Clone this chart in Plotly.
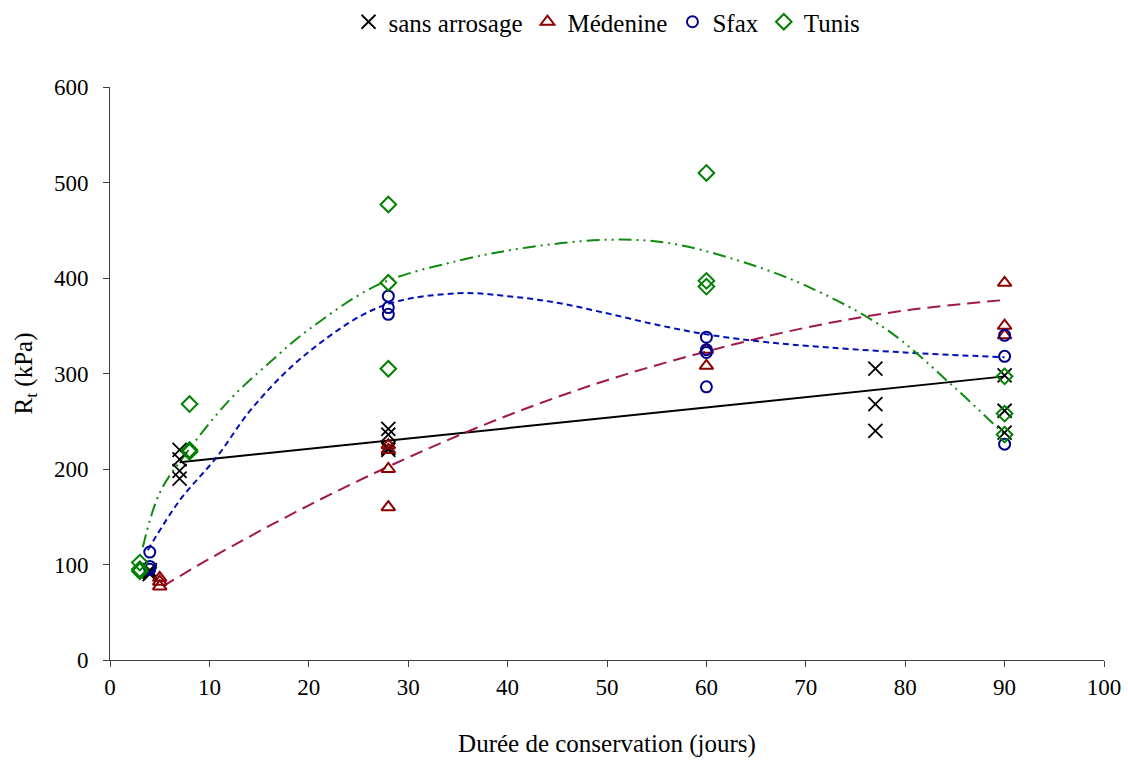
import plotly.graph_objects as go

# ---- data ----
sans_x = [4, 4, 4, 7, 7, 7, 7, 28, 28, 28, 28, 77, 77, 77, 90, 90, 90]
sans_y = [94, 92, 90, 220, 210, 198, 190, 242, 236, 222, 220, 305, 268, 240, 298, 261, 238]

med_x = [5, 5, 5, 28, 28, 28, 28, 60, 60, 90, 90, 90]
med_y = [86, 82, 77, 225, 220, 200, 160, 325, 308, 395, 350, 340]

sfax_x = [4, 4, 4, 28, 28, 28, 60, 60, 60, 60, 90, 90, 90]
sfax_y = [113, 98, 95, 381, 369, 362, 338, 325, 322, 286, 340, 318, 226]

tunis_x = [3, 3, 3, 8, 8, 8, 28, 28, 28, 60, 60, 60, 90, 90, 90]
tunis_y = [102, 95, 93, 268, 220, 218, 477, 395, 305, 510, 397, 391, 297, 258, 236]

# trend curves
sans_tr_x = [7, 90]
sans_tr_y = [207, 297]

med_tr_x = [5.3, 10, 20, 30, 40, 50, 60, 70, 80, 90]
med_tr_y = [77, 106, 162, 212, 256, 293, 323, 348, 366, 377]

sfax_tr_x = [3.8, 7, 10.7, 14.4, 19.8, 27.2, 35, 40, 45, 50, 55, 60, 65, 70, 80, 90]
sfax_tr_y = [115, 167, 212, 265, 321, 370, 384, 381, 374, 363, 351, 341, 334, 329, 322, 317]

tunis_tr_x = [3.3, 5, 7.7, 12, 16, 20, 27, 35, 42, 50, 56, 63, 70, 78, 85, 90]
tunis_tr_y = [118, 175, 217, 272, 311, 346, 393, 418, 432, 440, 437, 419, 392, 347, 285, 236]

x_ticks = [0, 10, 20, 30, 40, 50, 60, 70, 80, 90, 100]
y_ticks = [0, 100, 200, 300, 400, 500, 600]

FONT = "Liberation Serif, Times New Roman, serif"

fig = go.Figure()

# trend lines
fig.add_trace(go.Scatter(x=sans_tr_x, y=sans_tr_y, mode="lines",
                         line=dict(color="#000000", width=2), showlegend=False, hoverinfo="skip"))
fig.add_trace(go.Scatter(x=med_tr_x, y=med_tr_y, mode="lines", line_shape="spline",
                         line=dict(color="#A0184C", width=2, dash="13px,7px"),
                         showlegend=False, hoverinfo="skip"))
fig.add_trace(go.Scatter(x=sfax_tr_x, y=sfax_tr_y, mode="lines", line_shape="spline",
                         line=dict(color="#0010B8", width=2, dash="6px,4px"),
                         showlegend=False, hoverinfo="skip"))
fig.add_trace(go.Scatter(x=tunis_tr_x, y=tunis_tr_y, mode="lines", line_shape="spline",
                         line=dict(color="#108A10", width=2, dash="13px,5px,2px,5px,2px,5px"),
                         showlegend=False, hoverinfo="skip"))

# markers
fig.add_trace(go.Scatter(x=sans_x, y=sans_y, mode="markers", name="sans arrosage",
                         marker=dict(symbol="x-thin-open", size=14, color="#000000",
                                     line=dict(color="#000000", width=1.8))))
fig.add_trace(go.Scatter(x=med_x, y=med_y, mode="markers", name="Médenine",
                         marker=dict(symbol="triangle-up-open", size=12, color="#8B0000",
                                     line=dict(color="#8B0000", width=2))))
fig.add_trace(go.Scatter(x=sfax_x, y=sfax_y, mode="markers", name="Sfax",
                         marker=dict(symbol="circle-open", size=11, color="#000090",
                                     line=dict(color="#000090", width=2))))
fig.add_trace(go.Scatter(x=tunis_x, y=tunis_y, mode="markers", name="Tunis",
                         marker=dict(symbol="diamond-open", size=12, color="#008000",
                                     line=dict(color="#008000", width=2))))

axis_common = dict(showline=True, linecolor="#404040", linewidth=1, ticks="outside",
                   ticklen=6, tickcolor="#404040", showgrid=False, zeroline=False,
                   automargin=False,
                   tickfont=dict(family=FONT, size=23, color="#000000"))

fig.update_layout(
    width=1128, height=765,
    margin=dict(l=110, r=24, t=87, b=105),
    paper_bgcolor="white", plot_bgcolor="white",
    font=dict(family=FONT, color="#000000"),
    xaxis=dict(range=[0, 100], tickvals=x_ticks, ticklabelstandoff=0,
               title=dict(text="Durée de conservation (jours)",
                          font=dict(family=FONT, size=25), standoff=35),
               **axis_common),
    yaxis=dict(range=[0, 600], tickvals=y_ticks, ticklabelstandoff=10,
               title=dict(text="R<sub>t</sub> (kPa)",
                          font=dict(family=FONT, size=25), standoff=14),
               **axis_common),
    legend=dict(orientation="h", x=0.5, xanchor="center", xref="paper",
                y=1 - 22 / 765, yanchor="middle", yref="container",
                font=dict(family=FONT, size=25), itemwidth=30, tracegroupgap=0,
                bgcolor="rgba(0,0,0,0)"),
    showlegend=True,
)

fig.write_html("out.html")
